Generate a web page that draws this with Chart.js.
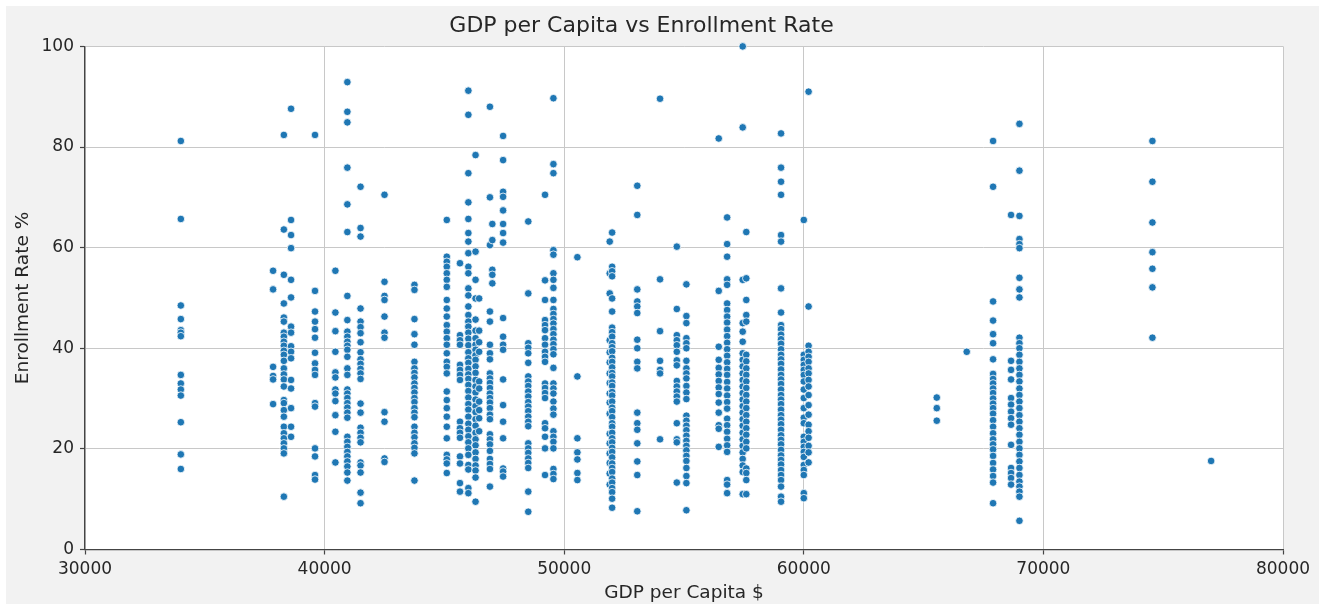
<!DOCTYPE html>
<html>
<head>
<meta charset="utf-8">
<title>GDP per Capita vs Enrollment Rate</title>
<script src="https://cdn.jsdelivr.net/npm/chart.js@4.4.1/dist/chart.umd.min.js"></script>
<style>
  html, body { margin: 0; padding: 0; background: #ffffff; }
  canvas { display: block; }
</style>
</head>
<body>
<canvas id="chart" width="1325" height="610"></canvas>
<script>
// GDP per capita ($) of each group of schools
const gdpLevels = [
  34000, 37850, 38300, 38600, 39600, 40450, 40950, 41500, 42500, 43750,
  45100, 45650, 46000, 46300, 46450, 46900, 47000, 47450, 48500, 49200,
  49550, 50550, 51900, 52000, 53050, 54000, 54700, 55100, 56450, 56800,
  57450, 57600, 59050, 60000, 60200, 65550, 66800, 67900, 68650, 69000,
  74550, 77000
];

// Enrollment rate (%) values observed at each GDP level above (same order)
const enrollmentRates = [
  [81.2, 65.7, 48.5, 45.8, 43.6, 43.1, 42.4, 34.7, 33.0, 31.8, 30.6, 25.3, 18.9, 16.0],
  [55.4, 51.7, 36.3, 34.5, 33.8, 28.9],
  [82.4, 63.6, 54.6, 48.9, 46.1, 45.3, 43.1, 42.3, 41.3, 40.5, 39.5, 38.7, 37.5, 36.0, 34.8, 33.8, 32.4, 29.7, 29.1, 27.7, 26.4, 24.4, 23.1, 22.1, 21.1, 20.1, 19.1, 10.5],
  [87.6, 65.5, 62.5, 59.9, 53.6, 50.1, 44.3, 43.1, 40.4, 39.3, 38.0, 33.7, 32.0, 28.1, 24.4, 22.4],
  [82.4, 51.4, 47.3, 45.3, 43.8, 42.1, 39.1, 37.0, 35.7, 34.7, 29.1, 28.4, 20.1, 18.5, 14.8, 13.9],
  [55.4, 47.1, 43.4, 39.3, 35.2, 34.2, 31.8, 31.0, 29.5, 26.7, 23.4, 17.3],
  [92.9, 87.0, 84.9, 75.9, 68.6, 63.1, 50.4, 45.6, 43.3, 42.3, 41.3, 40.5, 39.7, 38.3, 36.0, 34.7, 31.8, 31.0, 30.1, 29.1, 28.2, 27.2, 26.2, 22.4, 21.4, 20.4, 19.4, 18.5, 17.5, 16.5, 15.3, 13.7],
  [72.1, 63.9, 62.2, 47.9, 45.3, 44.2, 43.0, 41.2, 39.2, 37.8, 36.9, 35.9, 35.0, 33.9, 29.0, 27.2, 24.2, 23.2, 22.2, 21.3, 17.3, 16.7, 15.3, 11.3, 9.2],
  [70.5, 53.2, 50.4, 49.6, 46.3, 43.1, 42.1, 27.3, 25.4, 18.1, 17.4],
  [52.6, 51.6, 45.8, 42.8, 40.7, 37.3, 36.0, 35.1, 34.2, 33.0, 32.1, 31.2, 30.1, 29.3, 28.1, 27.2, 26.3, 24.4, 23.2, 22.3, 21.1, 20.2, 19.1, 13.7],
  [65.5, 58.2, 57.2, 56.2, 54.9, 53.6, 52.2, 49.6, 47.9, 46.3, 44.6, 43.3, 42.0, 40.7, 39.0, 37.3, 36.3, 35.0, 31.4, 29.7, 28.1, 26.4, 24.4, 22.1, 18.8, 17.9, 17.1, 15.2],
  [56.9, 42.6, 41.6, 40.7, 36.7, 35.7, 34.7, 33.7, 25.4, 24.1, 23.2, 22.2, 18.5, 17.1, 13.2, 11.5],
  [91.2, 86.4, 74.8, 69.0, 65.7, 62.9, 61.2, 58.9, 56.2, 54.9, 51.9, 50.5, 48.3, 46.6, 45.3, 44.3, 43.1, 41.9, 40.6, 39.2, 38.0, 37.1, 35.9, 34.8, 33.9, 32.7, 31.5, 30.2, 28.9, 27.8, 26.4, 25.0, 23.8, 22.5, 21.3, 20.1, 18.8, 16.8, 15.9, 12.2, 11.2],
  [78.4, 59.2, 53.6, 49.9, 45.7, 43.5, 42.0, 40.7, 39.7, 38.6, 37.7, 36.4, 35.1, 33.7, 32.4, 31.2, 29.8, 28.5, 27.3, 25.9, 24.6, 23.2, 21.9, 20.7, 19.3, 18.0, 16.7, 15.7, 14.3, 9.5],
  [49.9, 43.5, 41.2, 39.3, 33.4, 32.0, 29.4, 27.7, 26.1, 23.5],
  [88.0, 70.0, 60.5, 47.3, 45.3, 40.7, 39.0, 37.8, 35.0, 34.0, 33.1, 32.1, 31.0, 30.1, 29.2, 28.1, 26.8, 25.9, 22.9, 21.9, 20.9, 19.6, 18.0, 17.0, 16.0, 12.5],
  [64.7, 61.5, 55.6, 54.6, 52.9],
  [82.2, 77.4, 71.1, 70.1, 67.4, 64.7, 62.9, 61.0, 46.0, 42.3, 40.7, 39.7, 33.8, 28.7, 25.4, 22.1, 16.1, 15.5, 14.5],
  [65.2, 50.9, 41.0, 40.1, 39.0, 37.1, 34.4, 33.4, 32.5, 31.4, 30.4, 29.3, 28.4, 27.5, 26.4, 25.4, 24.5, 21.1, 20.1, 19.2, 18.1, 17.2, 16.2, 11.5, 7.5],
  [70.5, 53.5, 49.6, 45.6, 44.6, 43.6, 42.0, 40.7, 39.3, 38.3, 37.3, 33.0, 32.1, 31.1, 30.1, 25.1, 24.1, 22.4, 20.1, 14.8],
  [89.7, 76.6, 74.8, 59.5, 58.6, 54.9, 53.6, 52.0, 49.6, 47.8, 46.8, 45.8, 44.9, 43.8, 42.8, 41.7, 40.8, 39.8, 38.8, 36.1, 33.0, 32.0, 31.0, 29.4, 28.0, 26.8, 23.5, 22.4, 21.4, 20.1, 16.0, 15.0, 14.0],
  [58.1, 34.4, 22.1, 19.3, 17.9, 15.2, 13.8],
  [61.2, 54.9, 50.9, 41.6, 39.2, 37.2, 35.0, 33.1, 31.0, 29.2, 27.0, 23.0, 21.1, 19.1, 17.2, 15.1, 12.9],
  [63.0, 56.2, 55.3, 54.3, 49.9, 47.3, 44.1, 43.2, 42.3, 41.0, 40.2, 39.4, 38.1, 37.3, 36.2, 35.1, 34.4, 33.2, 32.5, 31.3, 30.6, 29.4, 28.2, 27.5, 26.3, 25.1, 24.4, 23.2, 22.1, 21.3, 20.2, 19.4, 18.3, 17.1, 16.2, 15.4, 14.1, 13.3, 12.2, 11.4, 10.1, 8.3],
  [72.3, 66.5, 51.7, 49.3, 48.3, 47.0, 41.7, 40.0, 37.3, 36.0, 27.2, 25.1, 23.8, 21.1, 17.5, 14.8, 7.6],
  [89.6, 53.7, 43.4, 37.5, 35.7, 35.0, 21.9],
  [60.2, 47.8, 42.6, 41.6, 40.6, 39.3, 37.6, 36.6, 33.5, 32.4, 31.4, 30.4, 29.4, 25.1, 21.9, 21.3, 13.3],
  [52.7, 46.4, 45.0, 42.0, 41.0, 40.0, 37.5, 36.0, 35.0, 34.0, 32.5, 31.2, 29.9, 26.6, 25.6, 24.6, 23.7, 22.6, 21.6, 20.6, 19.7, 18.6, 17.6, 16.2, 14.6, 13.2, 7.8],
  [81.7, 51.4, 40.3, 37.7, 36.1, 34.8, 33.5, 32.2, 30.9, 29.2, 27.2, 24.7, 24.0, 20.4],
  [66.0, 60.7, 58.2, 53.7, 52.6, 48.9, 47.6, 46.3, 45.1, 43.7, 42.4, 41.1, 39.8, 38.5, 37.2, 35.9, 34.7, 33.3, 32.0, 30.6, 29.3, 28.0, 26.0, 24.7, 23.4, 22.0, 20.7, 19.4, 13.8, 12.9, 11.2],
  [100.0, 83.9, 53.6, 45.0, 43.3, 41.3, 39.0, 37.7, 36.4, 35.0, 33.7, 32.4, 31.1, 29.8, 28.5, 27.2, 25.9, 24.6, 23.2, 21.9, 20.6, 19.3, 18.0, 16.7, 15.4, 11.0],
  [63.1, 53.9, 49.6, 46.6, 45.3, 38.7, 37.4, 36.0, 34.7, 33.4, 32.1, 30.7, 29.4, 28.1, 26.7, 25.4, 24.1, 22.8, 21.4, 20.1, 16.1, 15.2, 13.8, 11.0],
  [82.7, 75.9, 73.1, 70.5, 62.5, 61.2, 51.9, 47.1, 44.6, 43.8, 42.7, 41.8, 40.9, 39.8, 38.7, 37.8, 36.9, 35.8, 34.7, 33.8, 32.9, 31.8, 30.7, 29.8, 28.9, 27.8, 26.7, 25.8, 24.9, 23.8, 22.7, 21.8, 20.9, 19.8, 18.7, 17.8, 16.9, 15.8, 14.8, 13.8, 12.5, 10.5, 9.5],
  [65.5, 38.7, 37.7, 36.7, 35.7, 34.7, 33.4, 31.8, 30.1, 28.1, 26.2, 25.1, 22.4, 21.4, 20.4, 19.4, 18.4, 16.8, 15.8, 14.8, 11.2, 10.2],
  [91.0, 48.3, 40.5, 39.3, 38.3, 37.3, 36.0, 35.0, 33.7, 32.4, 30.7, 28.7, 26.8, 24.8, 23.5, 22.2, 20.6, 19.3, 17.3],
  [30.2, 28.1, 25.6],
  [39.3],
  [81.2, 72.1, 49.3, 45.5, 42.8, 41.0, 37.8, 34.9, 33.9, 33.0, 32.0, 31.1, 30.0, 29.0, 28.1, 27.0, 25.7, 24.4, 23.1, 21.9, 20.9, 19.9, 18.6, 17.2, 15.9, 14.6, 13.3, 9.2],
  [66.5, 37.5, 35.7, 33.8, 30.1, 28.8, 27.4, 26.1, 24.8, 20.8, 16.2, 15.2, 14.2, 12.9],
  [84.6, 75.3, 66.3, 61.7, 60.7, 59.9, 54.0, 51.7, 50.1, 42.1, 41.0, 40.0, 38.7, 37.3, 36.0, 34.7, 33.4, 32.0, 30.7, 29.4, 28.1, 26.7, 25.4, 24.1, 22.8, 21.4, 20.1, 18.8, 17.5, 16.2, 14.8, 13.5, 12.5, 11.5, 10.5, 5.7],
  [81.2, 73.1, 65.0, 59.1, 55.8, 52.1, 42.1],
  [17.6]
];

// Axis tick values
const xTickValues = [30000, 40000, 50000, 60000, 70000, 80000];
const yTickValues = [0, 20, 40, 60, 80, 100];

// Flatten into {x, y} points for the scatter dataset
const points = [];
gdpLevels.forEach((gdp, i) => {
  enrollmentRates[i].forEach(rate => points.push({ x: gdp, y: rate }));
});

const FONT = "'DejaVu Sans', 'Liberation Sans', sans-serif";
const TEXT = '#262626';

// Light figure background with a white plotting area
const backdrop = {
  id: 'backdrop',
  beforeDraw(chart) {
    const { ctx, chartArea: a } = chart;
    ctx.save();
    ctx.fillStyle = '#f2f2f2';
    ctx.fillRect(6, 6, 1313, 598);
    ctx.fillStyle = '#ffffff';
    ctx.fillRect(a.left, a.top, a.right - a.left, a.bottom - a.top);
    ctx.restore();
  }
};

new Chart(document.getElementById('chart'), {
  type: 'scatter',
  data: {
    datasets: [{
      label: 'Enrollment Rate %',
      data: points,
      backgroundColor: '#1f77b4',
      borderColor: '#ffffff',
      borderWidth: 0.8,
      pointRadius: 3.8,
      pointHoverRadius: 3.8,
      clip: false
    }]
  },
  options: {
    responsive: false,
    animation: false,
    devicePixelRatio: 1,
    layout: { padding: { left: 0, right: 42, top: 0, bottom: 0 } },
    plugins: {
      legend: { display: false },
      tooltip: { enabled: false },
      title: {
        display: true,
        text: 'GDP per Capita vs Enrollment Rate',
        color: TEXT,
        font: { family: FONT, size: 22, weight: 'normal' },
        padding: { top: 13, bottom: 7 }
      }
    },
    scales: {
      x: {
        type: 'linear',
        min: 30000,
        max: 80000,
        afterBuildTicks: scale => { scale.ticks = xTickValues.map(v => ({ value: v })); },
        afterFit: scale => { scale.height = 60.5; },
        ticks: {
          color: TEXT,
          font: { family: FONT, size: 17 },
          padding: 5,
          maxRotation: 0,
          callback: v => String(v)
        },
        grid: { color: '#c8c8c8', lineWidth: 1, tickColor: '#444444', tickLength: 5, tickWidth: 1.2 },
        border: { color: '#444444', width: 1.3 },
        title: {
          display: true,
          text: 'GDP per Capita $',
          color: TEXT,
          font: { family: FONT, size: 18.5 },
          padding: { top: 0, bottom: 6 }
        }
      },
      y: {
        type: 'linear',
        min: 0,
        max: 100,
        afterBuildTicks: scale => { scale.ticks = yTickValues.map(v => ({ value: v })); },
        afterFit: scale => { scale.width = 85; },
        ticks: {
          color: TEXT,
          font: { family: FONT, size: 17 },
          padding: 6,
          callback: v => String(v)
        },
        grid: { color: '#c8c8c8', lineWidth: 1, tickColor: '#444444', tickLength: 5, tickWidth: 1.2 },
        border: { color: '#444444', width: 1.3 },
        title: {
          display: true,
          text: 'Enrollment Rate %',
          color: TEXT,
          font: { family: FONT, size: 18.5 },
          padding: { top: 12, bottom: 0 }
        }
      }
    }
  },
  plugins: [backdrop]
});
</script>
</body>
</html>
